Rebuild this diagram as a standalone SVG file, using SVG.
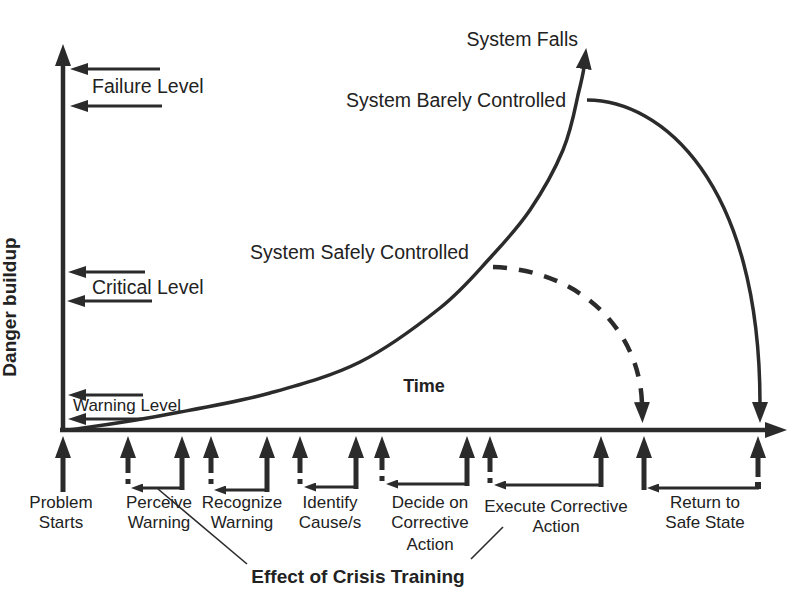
<svg xmlns="http://www.w3.org/2000/svg" width="800" height="602" viewBox="0 0 800 602">
<style>
text{font-family:"Liberation Sans",Arial,sans-serif;fill:#222}
.lbl{font-size:19.5px}
.bl{font-size:17px;text-anchor:middle}
.bold{font-weight:bold}
.ax{stroke:#2b2b2b;stroke-width:4.5;fill:none}
.lvl{stroke:#2b2b2b;stroke-width:3;fill:none}
.sv{stroke:#2b2b2b;stroke-width:5;fill:none}
.br{stroke:#2b2b2b;stroke-width:3;fill:none}
.cv{stroke:#2b2b2b;stroke-width:3.5;fill:none}
.dash{stroke:#2b2b2b;stroke-width:4.5;fill:none;stroke-dasharray:14 12}
.thin{stroke:#2b2b2b;stroke-width:1.6;fill:none}
.sq{fill:#2b2b2b}
</style>
<defs>
<marker id="ahBig" markerUnits="userSpaceOnUse" viewBox="0 0 22 16" markerWidth="22" markerHeight="16" refX="2" refY="8" orient="auto"><path d="M0,0 L22,8 L0,16 z" fill="#2b2b2b"/></marker>
<marker id="ahMid" markerUnits="userSpaceOnUse" viewBox="0 0 18 12" markerWidth="18" markerHeight="12" refX="2" refY="6" orient="auto"><path d="M0,0 L18,6 L0,12 z" fill="#2b2b2b"/></marker>
<marker id="ahSmall" markerUnits="userSpaceOnUse" viewBox="0 0 12 9" markerWidth="12" markerHeight="9" refX="2" refY="4.5" orient="auto"><path d="M0,0 L12,4.5 L0,9 z" fill="#2b2b2b"/></marker>
<marker id="ahCurve" markerUnits="userSpaceOnUse" viewBox="0 0 21 16" markerWidth="21" markerHeight="16" refX="2" refY="8" orient="auto"><path d="M0,0 L21,8 L0,16 z" fill="#2b2b2b"/></marker>
</defs>

<g id="axes">
<line class="ax" x1="63" y1="432" x2="63" y2="64" marker-end="url(#ahBig)"/>
<line class="ax" x1="60" y1="430" x2="767" y2="430" marker-end="url(#ahBig)"/>
<text class="bold" x="16" y="307" font-size="19" text-anchor="middle" transform="rotate(-90 16 307)">Danger buildup</text>
<text class="bold" x="424" y="392" font-size="18" text-anchor="middle">Time</text>
</g>

<g id="levels">
<line class="lvl" x1="160" y1="69" x2="86" y2="69" marker-end="url(#ahMid)"/>
<line class="lvl" x1="162" y1="106" x2="86" y2="106" marker-end="url(#ahMid)"/>
<text class="lbl" x="92" y="93">Failure Level</text>
<line class="lvl" x1="145" y1="272" x2="84" y2="272" marker-end="url(#ahMid)"/>
<line class="lvl" x1="152" y1="301" x2="83" y2="301" marker-end="url(#ahMid)"/>
<text class="lbl" x="92" y="294">Critical Level</text>
<line class="lvl" x1="143" y1="395" x2="84" y2="395" marker-end="url(#ahMid)"/>
<line class="lvl" x1="142" y1="419" x2="84" y2="419" marker-end="url(#ahMid)"/>
<text x="73" y="411" font-size="17">Warning Level</text>
</g>

<g id="curves">
<path class="cv" d="M68,430 C80,428 120,424 180,412 C213,406 240,401.3 270,393 C300,384.7 331.7,376.2 360,362 C388.3,347.8 418.3,325.3 440,308 C461.7,290.7 475,274.3 490,258 C505,241.7 517.8,228 530,210 C542.2,192 555,169.2 563,150 C571,130.8 574.5,111.3 578,95 C581,83 583.2,74 584,67" marker-end="url(#ahCurve)"/>
<path class="cv" d="M587,100 C660,100 760,180 760,404" stroke-width="4" marker-end="url(#ahCurve)"/>
<path class="dash" d="M493,267 C580,270 640,330 642,404" marker-end="url(#ahCurve)"/>
<text class="lbl" x="578" y="46" text-anchor="end">System Falls</text>
<text class="lbl" x="566" y="107" text-anchor="end">System Barely Controlled</text>
<text class="lbl" x="250" y="259">System Safely Controlled</text>
</g>

<g id="problem-starts">
<line class="sv" x1="63" y1="492" x2="63" y2="456" marker-end="url(#ahBig)"/>
<text class="bl" x="61" y="508">Problem</text>
<text class="bl" x="61" y="528">Starts</text>
</g>

<g id="perceive-warning">
<line class="sv" x1="182" y1="490" x2="182" y2="456" marker-end="url(#ahBig)"/>
<line class="sv" x1="128" y1="473" x2="128" y2="456" marker-end="url(#ahBig)"/>
<rect class="sq" x="125.5" y="479" width="5" height="5"/>
<line class="br" x1="183" y1="488" x2="141" y2="488" marker-end="url(#ahSmall)"/>
<text class="bl" x="159" y="508">Perceive</text>
<text class="bl" x="159" y="528">Warning</text>
</g>

<g id="recognize-warning">
<line class="sv" x1="267" y1="492" x2="267" y2="456" marker-end="url(#ahBig)"/>
<line class="sv" x1="211" y1="473" x2="211" y2="456" marker-end="url(#ahBig)"/>
<rect class="sq" x="208.5" y="479" width="5" height="5"/>
<line class="br" x1="268" y1="490" x2="224" y2="490" marker-end="url(#ahSmall)"/>
<text class="bl" x="242" y="508">Recognize</text>
<text class="bl" x="242" y="528">Warning</text>
</g>

<g id="identify-causes">
<line class="sv" x1="356" y1="489" x2="356" y2="456" marker-end="url(#ahBig)"/>
<line class="sv" x1="300" y1="473" x2="300" y2="456" marker-end="url(#ahBig)"/>
<rect class="sq" x="297.5" y="479" width="5" height="5"/>
<line class="br" x1="357" y1="487" x2="314" y2="487" marker-end="url(#ahSmall)"/>
<text class="bl" x="330" y="508">Identify</text>
<text class="bl" x="330" y="528">Cause/s</text>
</g>

<g id="decide-action">
<line class="sv" x1="467" y1="486" x2="467" y2="456" marker-end="url(#ahBig)"/>
<line class="sv" x1="382" y1="470" x2="382" y2="456" marker-end="url(#ahBig)"/>
<rect class="sq" x="379.5" y="476" width="5" height="5"/>
<line class="br" x1="468" y1="484" x2="396" y2="484" marker-end="url(#ahSmall)"/>
<text class="bl" x="430" y="508">Decide on</text>
<text class="bl" x="430" y="528">Corrective</text>
<text class="bl" x="430" y="550">Action</text>
</g>

<g id="execute-action">
<line class="sv" x1="601" y1="487" x2="601" y2="456" marker-end="url(#ahBig)"/>
<line class="sv" x1="490" y1="472" x2="490" y2="456" marker-end="url(#ahBig)"/>
<rect class="sq" x="487.5" y="478" width="5" height="5"/>
<line class="br" x1="602" y1="485" x2="504" y2="485" marker-end="url(#ahSmall)"/>
<text class="bl" x="556" y="512">Execute Corrective</text>
<text class="bl" x="556" y="532">Action</text>
</g>

<g id="return-safe">
<line class="sv" x1="644" y1="490" x2="644" y2="456" marker-end="url(#ahBig)"/>
<line class="sv" x1="758" y1="477" x2="758" y2="456" marker-end="url(#ahBig)"/>
<rect class="sq" x="755" y="482" width="6" height="7"/>
<line class="br" x1="759" y1="488" x2="657" y2="488" marker-end="url(#ahSmall)"/>
<text class="bl" x="705" y="508">Return to</text>
<text class="bl" x="705" y="528">Safe State</text>
</g>

<g id="crisis-training">
<line class="thin" x1="158" y1="489" x2="247" y2="564"/>
<line class="thin" x1="471" y1="559" x2="503" y2="527"/>
<text class="bold" x="358" y="583" font-size="19" text-anchor="middle">Effect of Crisis Training</text>
</g>
</svg>
